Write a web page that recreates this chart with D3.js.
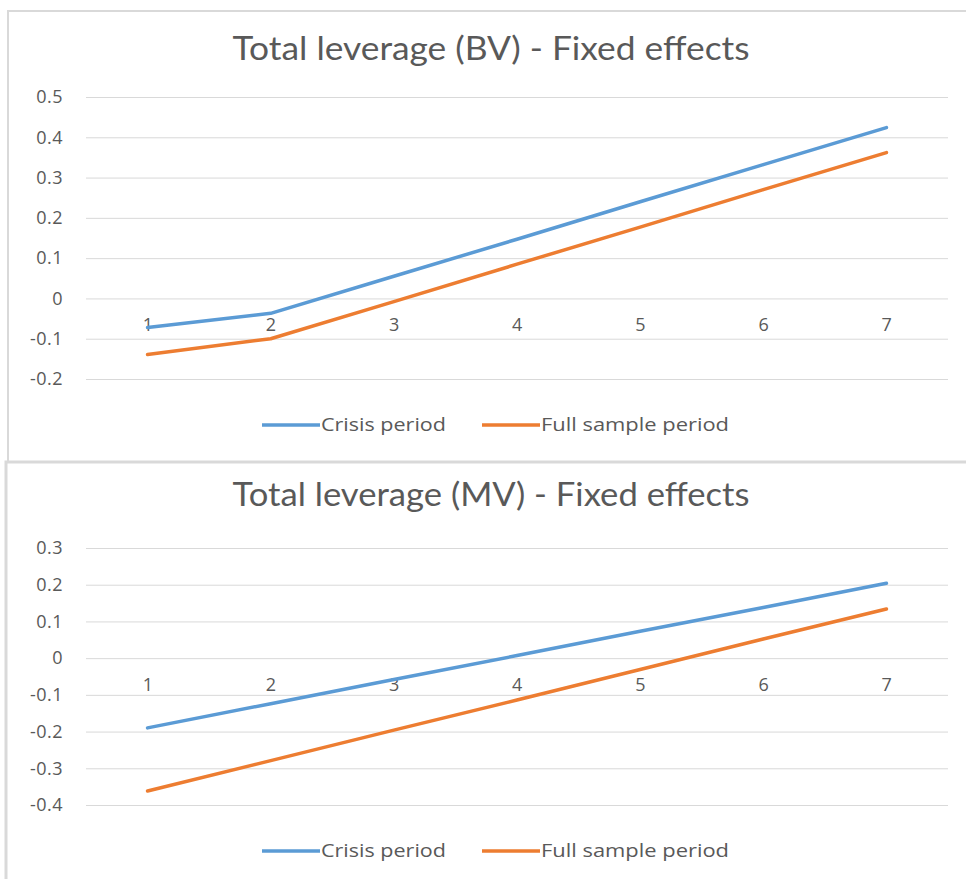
<!DOCTYPE html>
<html>
<head>
<meta charset="utf-8">
<script src="https://cdn.jsdelivr.net/npm/d3@7"></script>
<style>
  body { margin: 0; background: #fff; }
  svg { display: block; }
  .tick-label { font-family: "Open Sans", sans-serif; font-size: 18px; fill: #595959; letter-spacing: 0.5px; }
  .chart-title { font-family: "Lato", sans-serif; font-size: 32px; fill: #595959; }
  .legend-text { font-family: "Open Sans", sans-serif; font-size: 18px; fill: #595959; }
</style>
</head>
<body>
<div class="chart"></div>
<script>
var svgWidth = 966;
var svgHeight = 879;

// categories (x axis)
var periods = [1, 2, 3, 4, 5, 6, 7];

// series names
var seriesNames = ["Crisis period", "Full sample period"];
var seriesColors = ["#5B9BD5", "#ED7D31"];

// Total leverage (BV)
var bvCrisis = [-0.072, -0.037, 0.055, 0.147, 0.240, 0.332, 0.424];
var bvFull = [-0.139, -0.100, -0.008, 0.085, 0.177, 0.270, 0.362];
var bvTicks = [-0.2, -0.1, 0, 0.1, 0.2, 0.3, 0.4, 0.5];

// Total leverage (MV)
var mvCrisis = [-0.190, -0.124, -0.058, 0.007, 0.073, 0.138, 0.204];
var mvFull = [-0.362, -0.279, -0.196, -0.114, -0.031, 0.052, 0.134];
var mvTicks = [-0.4, -0.3, -0.2, -0.1, 0, 0.1, 0.2, 0.3];

var svg = d3.select(".chart")
  .append("svg")
  .attr("width", svgWidth)
  .attr("height", svgHeight);

// panel frames
svg.append("rect")
  .attr("x", 8).attr("y", 11)
  .attr("width", 970).attr("height", 451)
  .attr("fill", "none")
  .attr("stroke", "#d9d9d9")
  .attr("stroke-width", 2);

svg.append("rect")
  .attr("x", 6).attr("y", 462)
  .attr("width", 972).attr("height", 430)
  .attr("fill", "none")
  .attr("stroke", "#d9d9d9")
  .attr("stroke-width", 3);

// excel style labels: plain hyphen, "0" for zero
function fmt(d) {
  if (d === 0) return "0";
  return (d < 0 ? "-" : "") + Math.abs(d).toFixed(1);
}

function drawPanel(opts) {
  var g = svg.append("g");

  var x = d3.scalePoint()
    .domain(periods)
    .range([86, 948])
    .padding(0.5);

  var y = d3.scaleLinear()
    .domain([d3.min(opts.ticks), d3.max(opts.ticks)])
    .range([opts.bottom, opts.top]);

  // gridlines + y labels
  var yAxis = d3.axisLeft(y)
    .tickValues(opts.ticks)
    .tickSize(-862)
    .tickPadding(23)
    .tickFormat(fmt);

  var ya = g.append("g")
    .attr("transform", "translate(86,0)")
    .call(yAxis);
  ya.select(".domain").remove();
  ya.attr("font-family", null).attr("font-size", null);
  ya.selectAll(".tick line").attr("stroke", "#d9d9d9").attr("stroke-width", 1);
  ya.selectAll(".tick text").attr("class", "tick-label");

  // x labels, sitting under the zero line
  var xAxis = d3.axisBottom(x).tickSize(0).tickPadding(20);
  var xa = g.append("g")
    .attr("transform", `translate(0,${y(0)})`)
    .call(xAxis);
  xa.select(".domain").remove();
  xa.attr("font-family", null).attr("font-size", null);
  xa.selectAll(".tick text").attr("class", "tick-label");

  // lines
  var line = d3.line()
    .x((d, i) => x(periods[i]))
    .y(d => y(d));

  [opts.crisis, opts.full].forEach(function (vals, k) {
    g.append("path")
      .datum(vals)
      .attr("d", line)
      .attr("fill", "none")
      .attr("stroke", seriesColors[k])
      .attr("stroke-width", 3.5)
      .attr("stroke-linejoin", "round")
      .attr("stroke-linecap", "round");
  });

  // title
  g.append("text")
    .attr("class", "chart-title")
    .attr("x", 491)
    .attr("y", opts.titleY)
    .attr("text-anchor", "middle")
    .attr("textLength", 517)
    .attr("lengthAdjust", "spacingAndGlyphs")
    .text(opts.title);

  // legend
  var legendX = [262, 482];
  var textW = [125, 188];
  seriesNames.forEach(function (name, k) {
    g.append("line")
      .attr("x1", legendX[k]).attr("x2", legendX[k] + 58)
      .attr("y1", opts.legendY).attr("y2", opts.legendY)
      .attr("stroke", seriesColors[k])
      .attr("stroke-width", 3.5);
    g.append("text")
      .attr("class", "legend-text")
      .attr("x", legendX[k] + 59)
      .attr("y", opts.legendY)
      .attr("dy", "0.35em")
      .attr("textLength", textW[k])
      .attr("lengthAdjust", "spacingAndGlyphs")
      .text(name);
  });
}

drawPanel({
  title: "Total leverage (BV) - Fixed effects",
  crisis: bvCrisis, full: bvFull, ticks: bvTicks,
  top: 97, bottom: 379, titleY: 60, legendY: 425
});

drawPanel({
  title: "Total leverage (MV) - Fixed effects",
  crisis: mvCrisis, full: mvFull, ticks: mvTicks,
  top: 548, bottom: 805, titleY: 506, legendY: 851
});
</script>
</body>
</html>
